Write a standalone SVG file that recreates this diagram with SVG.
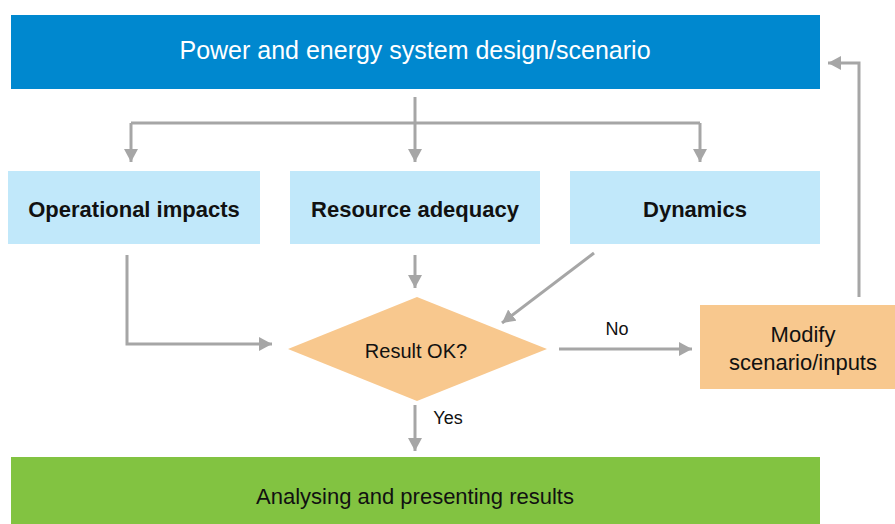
<svg xmlns="http://www.w3.org/2000/svg" width="895" height="524" viewBox="0 0 895 524">
<style>
.t{font-family:"Liberation Sans",Arial,sans-serif;text-anchor:middle;dominant-baseline:central}
.w{fill:#ffffff;font-size:25px}
.b{fill:#111111;font-size:22px;font-weight:bold}
.r{fill:#111111;font-size:20px}
.m{fill:#111111;font-size:22px}
.s{fill:#111111;font-size:18px}
.c{fill:none;stroke:#A6A6A6;stroke-width:3}
</style>
<defs>
<marker id="ah" markerUnits="userSpaceOnUse" markerWidth="14" markerHeight="14" viewBox="0 0 14 14" refX="13" refY="7" orient="auto">
<path d="M0,0 L13,7 L0,14 Z" fill="#A6A6A6"/>
</marker>
</defs>
<rect width="895" height="524" fill="#ffffff"/>
<g id="design">
<rect x="11" y="15" width="809" height="74" fill="#0088CF"/>
<text class="t w" x="415" y="50">Power and energy system design/scenario</text>
</g>
<g id="operational">
<rect x="8" y="171" width="252" height="73" fill="#C1E8FA"/>
<text class="t b" x="134" y="209">Operational impacts</text>
</g>
<g id="adequacy">
<rect x="290" y="171" width="250" height="73" fill="#C1E8FA"/>
<text class="t b" x="415" y="209">Resource adequacy</text>
</g>
<g id="dynamics">
<rect x="570" y="171" width="250" height="73" fill="#C1E8FA"/>
<text class="t b" x="695" y="209">Dynamics</text>
</g>
<g id="result">
<polygon points="417,297 547,349 417,401 288,349" fill="#F8C88E"/>
<text class="t r" x="416" y="351">Result OK?</text>
</g>
<g id="modify">
<rect x="700" y="305" width="195" height="84" fill="#F8C88E"/>
<text class="t m" x="803" y="334">Modify</text>
<text class="t m" x="803" y="362">scenario/inputs</text>
</g>
<g id="results">
<rect x="11" y="457" width="809" height="67" fill="#82C341"/>
<text class="t m" x="415" y="496">Analysing and presenting results</text>
</g>
<g id="connectors">
<path class="c" d="M415,97 V123"/>
<path class="c" d="M131,123 H700"/>
<path class="c" d="M131,123 V162" marker-end="url(#ah)"/>
<path class="c" d="M700,123 V162" marker-end="url(#ah)"/>
<path class="c" d="M415,123 V162" marker-end="url(#ah)"/>
<path class="c" d="M127,255 V344 H272" marker-end="url(#ah)"/>
<path class="c" d="M415,255 V288" marker-end="url(#ah)"/>
<path class="c" d="M594,253 L502,323" marker-end="url(#ah)"/>
<path class="c" d="M559,349 H692" marker-end="url(#ah)"/>
<path class="c" d="M859,297 V63 H828" marker-end="url(#ah)"/>
<path class="c" d="M415,405 V451" marker-end="url(#ah)"/>
<text class="t s" x="617" y="329">No</text>
<text class="t s" x="448" y="418">Yes</text>
</g>
</svg>
